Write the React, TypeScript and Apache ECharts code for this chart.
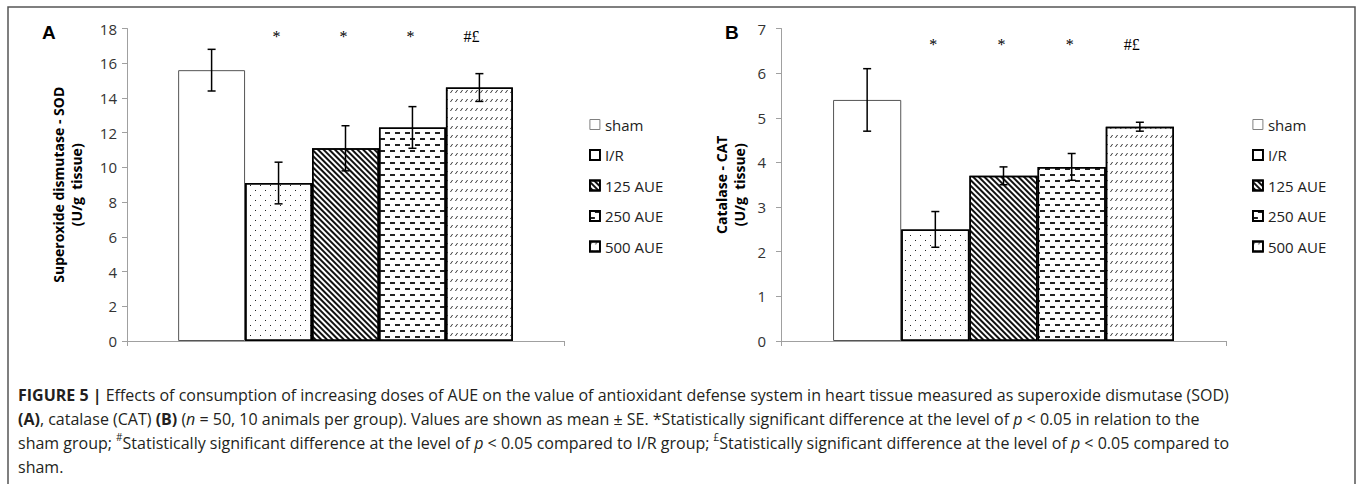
import React, { useEffect, useRef } from 'react';
import * as echarts from 'echarts';

// ---------- data ----------
const groups = ['sham', 'I/R', '125 AUE', '250 AUE', '500 AUE'];
const sodMean = [15.6, 9.1, 11.1, 12.3, 14.6];
const sodSE = [1.2, 1.2, 1.3, 1.2, 0.8];
const catMean = [5.4, 2.5, 3.7, 3.9, 4.8];
const catSE = [0.7, 0.4, 0.2, 0.3, 0.1];
const sigMarks = ['', '*', '*', '*', '#£'];
const sodAxis = { min: 0, max: 18, interval: 2 };
const catAxis = { min: 0, max: 7, interval: 1 };
const sodName = 'Superoxide dismutase - SOD\n(U/g  tissue)';
const catName = 'Catalase - CAT\n(U/g  tissue)';
const sodMarkY = 17.55;
const catMarkY = 6.65;

const captionLines: [string, string][][] = [
  [['FIGURE 5 |', 'b'], [' Effects of consumption of increasing doses of AUE on the value of antioxidant defense system in heart tissue measured as superoxide dismutase (SOD)', 'n']],
  [['(A)', 'b'], [', catalase (CAT) ', 'n'], ['(B)', 'b'], [' (', 'n'], ['n', 'i'], [' = 50, 10 animals per group). Values are shown as mean ± SE. *Statistically significant difference at the level of ', 'n'], ['p', 'i'], [' < 0.05 in relation to the', 'n']],
  [['sham group; ', 'n'], ['#', 's'], ['Statistically significant difference at the level of ', 'n'], ['p', 'i'], [' < 0.05 compared to I/R group; ', 'n'], ['£', 's'], ['Statistically significant difference at the level of ', 'n'], ['p', 'i'], [' < 0.05 compared to', 'n']],
  [['sham.', 'n']],
];

// ---------- styles ----------
const catGap = 0.234;
const tickFont = 'Open Sans';
const axisGray = '#a0a0a0';

const decals: any[] = [
  null,
  { symbol: 'rect', symbolSize: 1, color: '#222', dashArrayX: [[1, 9], [0, 5, 1, 4]], dashArrayY: [1, 3.5] },
  { symbol: 'rect', symbolSize: 1, color: '#111', dashArrayX: [1, 0], dashArrayY: [1.1, 1.1], rotation: Math.PI / 4 },
  { symbol: 'rect', symbolSize: 1, symbolKeepAspect: false, color: '#222', dashArrayX: [[5, 5], [0, 5, 5, 0]], dashArrayY: [1.3, 3.7] },
  { symbol: 'path://M0,10L7,0L10,0L3,10Z', symbolSize: 1, symbolKeepAspect: false, color: '#222', dashArrayX: [3, 1.2], dashArrayY: [3, 5.5] },
];

const itemStyles = groups.map((_, i) =>
  i === 0
    ? { color: '#fff', borderColor: '#555', borderWidth: 1 }
    : { color: '#fff', borderColor: '#000', borderWidth: 1.5, decal: decals[i] }
);

function barSeries(p: number, means: number[]) {
  return groups.map((g, i) => ({
    type: 'bar',
    name: g,
    xAxisIndex: p,
    yAxisIndex: p,
    data: [means[i]],
    barGap: '0%',
    barCategoryGap: catGap * 100 + '%',
    itemStyle: itemStyles[i],
    emphasis: { disabled: true },
  }));
}

function errorSeries(p: number, means: number[], ses: number[], markY: number) {
  return {
    type: 'custom',
    xAxisIndex: p,
    yAxisIndex: p,
    z: 5,
    silent: true,
    clip: false,
    data: means.map((m, i) => [0, m - ses[i], m + ses[i], i, markY]),
    encode: { x: 0, y: [1, 2] },
    renderItem: (params: any, api: any) => {
      const idx = api.value(3);
      const lo = api.coord([0, api.value(1)]);
      const hi = api.coord([0, api.value(2)]);
      const mk = api.coord([0, api.value(4)]);
      const band = api.size([1, 0])[0];
      const used = band * (1 - catGap);
      const bw = used / groups.length;
      const cx = lo[0] - used / 2 + (idx + 0.5) * bw;
      const cap = 4;
      const st = { stroke: '#000', lineWidth: 1.5 };
      const children: any[] = [
        { type: 'line', shape: { x1: cx, y1: hi[1], x2: cx, y2: lo[1] }, style: st },
        { type: 'line', shape: { x1: cx - cap, y1: hi[1], x2: cx + cap, y2: hi[1] }, style: st },
        { type: 'line', shape: { x1: cx - cap, y1: lo[1], x2: cx + cap, y2: lo[1] }, style: st },
      ];
      const mark = sigMarks[idx];
      if (mark) {
        children.push({
          type: 'text',
          x: cx - (mark.length > 1 ? 8 : 2),
          y: mk[1],
          style: {
            text: mark,
            fill: '#000',
            fontFamily: 'Liberation Serif',
            fontSize: 16,
            align: 'center',
            verticalAlign: 'middle',
          },
        });
      }
      return { type: 'group', children };
    },
  };
}

function yAxis(p: number, ax: any, name: string, nameGap: number, margin: number) {
  return {
    type: 'value',
    gridIndex: p,
    min: ax.min,
    max: ax.max,
    interval: ax.interval,
    axisLine: { show: true, lineStyle: { color: axisGray, width: 1 } },
    axisTick: { show: true, length: 5, lineStyle: { color: axisGray } },
    splitLine: { show: false },
    axisLabel: { margin, fontFamily: tickFont, fontSize: 15, color: '#333' },
    name,
    nameLocation: 'middle',
    nameGap,
    nameTextStyle: { fontFamily: tickFont, fontWeight: 'bold', fontSize: 14, lineHeight: 18, color: '#000' },
  };
}

function xAxis(p: number) {
  return {
    type: 'category',
    gridIndex: p,
    data: [''],
    axisLine: { show: true, lineStyle: { color: axisGray, width: 1 } },
    axisTick: { show: true, length: 5, lineStyle: { color: axisGray } },
    axisLabel: { show: false },
  };
}

function legend(left: number) {
  return {
    orient: 'vertical',
    left,
    top: 117,
    padding: 0,
    icon: 'rect',
    itemWidth: 10,
    itemHeight: 10,
    itemGap: 15.5,
    itemTextGap: 3,
    selectedMode: false,
    textStyle: { fontFamily: tickFont, fontSize: 15, color: '#222' },
    data: groups.map((g, i) => ({
      name: g,
      itemStyle: i === 0 ? { borderColor: '#808080', borderWidth: 1 } : { borderColor: '#000', borderWidth: 1.8 },
    })),
  };
}

function captionGraphics() {
  const lineY0 = 395;
  const lineStep = 24;
  return captionLines.map((segs, li) => ({
    type: 'text',
    x: 18,
    y: lineY0 + li * lineStep,
    silent: true,
    style: {
      text: segs.map(([t, k]) => `{${k}|${t}}`).join(''),
      fontFamily: 'Open Sans',
      fontSize: 16,
      fill: '#231f20',
      verticalAlign: 'middle',
      rich: {
        n: { fontFamily: 'Open Sans', fontSize: 16, color: '#231f20', lineHeight: 22 },
        b: { fontFamily: 'Open Sans', fontSize: 16, fontWeight: 'bold', color: '#231f20', lineHeight: 22 },
        i: { fontFamily: 'Open Sans', fontSize: 16, fontStyle: 'italic', color: '#231f20', lineHeight: 22 },
        s: { fontFamily: 'Open Sans', fontSize: 10, color: '#231f20', lineHeight: 22, verticalAlign: 'top' },
      },
    },
  }));
}

export default function App() {
  const ref = useRef<HTMLDivElement>(null);
  useEffect(() => {
    if (!ref.current) return;
    const chart = echarts.init(ref.current, undefined, { renderer: 'svg' });
    chart.setOption({
      animation: false,
      backgroundColor: '#fff',
      grid: [
        { left: 127, top: 28.5, width: 437, height: 312.5 },
        { left: 781, top: 28.5, width: 445, height: 312.5 },
      ],
      xAxis: [xAxis(0), xAxis(1)],
      yAxis: [yAxis(0, sodAxis, sodName, 42, 10), yAxis(1, catAxis, catName, 33, 15)],
      legend: [legend(589), legend(1252)],
      series: [
        ...barSeries(0, sodMean),
        ...barSeries(1, catMean),
        errorSeries(0, sodMean, sodSE, sodMarkY),
        errorSeries(1, catMean, catSE, catMarkY),
      ],
      graphic: [
        { type: 'rect', silent: true, shape: { x: 8, y: 7, width: 1347, height: 520 }, style: { fill: 'none', stroke: '#555', lineWidth: 1.5 } },
        { type: 'text', silent: true, x: 42, y: 23, style: { text: 'A', fontFamily: 'Liberation Sans', fontWeight: 'bold', fontSize: 19, fill: '#000', verticalAlign: 'top' } },
        { type: 'text', silent: true, x: 725, y: 23, style: { text: 'B', fontFamily: 'Liberation Sans', fontWeight: 'bold', fontSize: 19, fill: '#000', verticalAlign: 'top' } },
        ...captionGraphics(),
      ],
    });
    return () => chart.dispose();
  }, []);
  return <div ref={ref} style={{ position: 'absolute', left: 0, top: 0, width: 1357, height: 484 }} />;
}
